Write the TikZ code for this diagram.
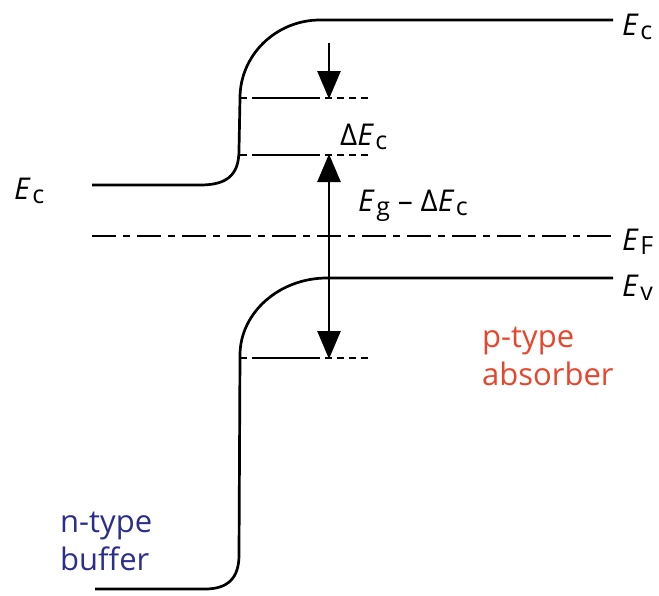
\documentclass[tikz,border=0pt]{standalone}
\usepackage{fontspec}
\setmainfont{Open Sans}
\usetikzlibrary{arrows.meta}
\definecolor{nblue}{HTML}{2B2E8C}
\definecolor{pred}{HTML}{E8452C}
\tikzset{
  band/.style={line width=2.7pt},
  lvl/.style={line width=2.2pt},
  dsh/.style={line width=2.2pt, dash pattern=on 7pt off 5pt},
  arr/.style={line width=2.7pt, -{Triangle[length=28pt,width=23pt]}},
  darr/.style={line width=2.7pt, {Triangle[length=28pt,width=23pt]}-{Triangle[length=28pt,width=23pt]}},
  lab/.style={inner sep=0pt, anchor=base west, font=\fontsize{30}{34}\selectfont},
  txt/.style={inner sep=0pt, anchor=north west, align=left, font=\fontsize{31}{38}\selectfont}
}
\newcommand{\En}[1]{\textit{E}\kern1.5pt\raisebox{-0.3ex}{\fontsize{25}{26}\selectfont #1}}
\begin{document}
\begin{tikzpicture}[x=1pt,y=-1pt]
\useasboundingbox (0,0) rectangle (659,595);
% conduction band
\coordinate (cbl) at (92,185);
\coordinate (cbr) at (613,20);
\draw[band] (cbl) -- (200,185) .. controls (226,185) and (239,176) .. (239,150)
  -- (240,98) .. controls (240,55) and (276,20) .. (320,20) -- (cbr);
% valence band
\coordinate (vbl) at (95,589);
\coordinate (vbr) at (613,278);
\draw[band] (vbr) -- (327,278) .. controls (279,278) and (240,313) .. (240,355)
  -- (239,555) .. controls (239,578) and (228,589) .. (205,589) -- (vbl);
% Fermi level
\coordinate (efl) at (92,236);
\coordinate (efr) at (613,236);
\draw[line width=2.4pt, dash pattern=on 24pt off 7pt on 7pt off 7pt] (efl) -- (efr);
% levels
\foreach \yy/\nm in {98/a,155/b,358/c}{
  \coordinate (\nm1) at (240,\yy);
  \coordinate (\nm2) at (252,\yy);
  \coordinate (\nm3) at (320,\yy);
  \coordinate (\nm4) at (368,\yy);
  \draw[lvl] (\nm1) -- (247,\yy);
  \draw[lvl] (\nm2) -- (\nm3);
  \draw[dsh] (325,\yy) -- (\nm4);
}
% arrows
\coordinate (atop) at (329,43);
\coordinate (atip) at (329,99);
\draw[arr] (atop) -- (atip);
\coordinate (dtop) at (329,154);
\coordinate (dbot) at (329,359);
\draw[darr] (dtop) -- (dbot);
% labels
\node[lab] (ecr) at (622,35) {\En{c}};
\node[lab] (efl2) at (622,250) {\En{F}};
\node[lab] (evl) at (622,296) {\En{v}};
\node[lab] (ecl) at (14,199) {\En{c}};
\node[lab] (dec) at (340,145) {Δ\En{c}};
\node[lab] (egl) at (358,211) {\En{g} – Δ\En{c}};
\node[txt, text=pred] (ptype) at (482,327) {p-type\\absorber};
\node[txt, text=nblue] (ntype) at (60,512) {n-type\\buffer};
\end{tikzpicture}
\end{document}
